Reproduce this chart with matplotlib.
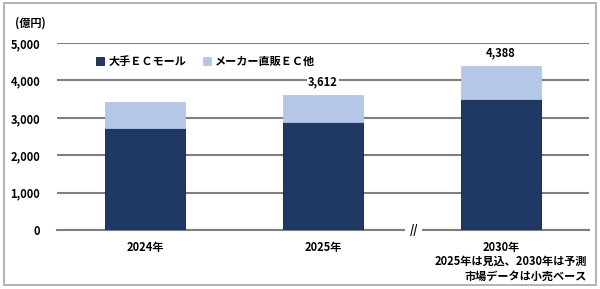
import matplotlib.pyplot as plt
from matplotlib.patches import Rectangle

plt.rcParams['font.family'] = ['Noto Sans CJK JP', 'DejaVu Sans']
plt.rcParams['font.weight'] = 'bold'

years = ["2024年", "2025年", "2030年"]
mall = [2720, 2880, 3510]
maker = [700, 732, 878]
totals = [3420, 3612, 4388]
shown_totals = [None, "3,612", "4,388"]

dark = "#203864"
light = "#B4C7E7"
grid_c = "#7F7F7F"

fig = plt.figure(figsize=(6, 2.89), dpi=100)
ax = fig.add_axes([0.095, 0.204, 0.887, 0.647])

x = list(range(len(years)))
ax.bar(x, mall, width=0.45, color=dark, edgecolor="#0E1E40", linewidth=0.6,
       label="大手ＥＣモール", zorder=3)
ax.bar(x, maker, width=0.45, bottom=mall, color=light, edgecolor=light,
       linewidth=0.6, label="メーカー直販ＥＣ他", zorder=3)

for i, t in enumerate(shown_totals):
    if t:
        ax.text(i, totals[i] + 340, t, ha="center", va="center", fontsize=8,
                fontweight="bold", zorder=5,
                bbox=dict(facecolor="white", edgecolor="none", pad=1))

ax.set_xlim(-0.495, 2.495)
ax.set_ylim(0, 5000)
ax.set_yticks(range(0, 5001, 1000))
ax.set_yticklabels([f"{v:,}" for v in range(0, 5001, 1000)], fontsize=8,
                   fontweight="bold")
ax.set_xticks(x)
ax.set_xticklabels(years, fontsize=8, fontweight="bold")
ax.tick_params(axis="y", length=0, pad=12)
ax.tick_params(axis="x", length=0, pad=8)
ax.yaxis.grid(True, color=grid_c, linewidth=1.5, zorder=0)
ax.set_axisbelow(True)
for s in ax.spines.values():
    s.set_visible(False)
ax.axhline(0, color=grid_c, linewidth=1.5, zorder=1, clip_on=False)

# axis break
ax.text(1.51, 0, "//", ha="center", va="center", fontsize=8, fontweight="bold",
        zorder=6, bbox=dict(facecolor="white", edgecolor="none", pad=3))

ax.legend(loc="upper left", bbox_to_anchor=(0.055, 0.99), ncol=2, frameon=False,
          fontsize=8, handlelength=0.7, handleheight=0.7, handletextpad=0.4,
          columnspacing=1.5)

fig.text(0.025, 0.922, "(億円)", fontsize=8, fontweight="bold", ha="left", va="center")
fig.text(0.978, 0.097, "2025年は見込、2030年は予測", fontsize=8, fontweight="bold",
         ha="right", va="center")
fig.text(0.978, 0.045, "市場データは小売ベース", fontsize=8, fontweight="bold",
         ha="right", va="center")

fig.add_artist(Rectangle((0.006, 0.014), 0.988, 0.975, transform=fig.transFigure,
                         fill=False, edgecolor="#A6A6A6", linewidth=1.2))

fig.savefig("out.png", dpi=100)
